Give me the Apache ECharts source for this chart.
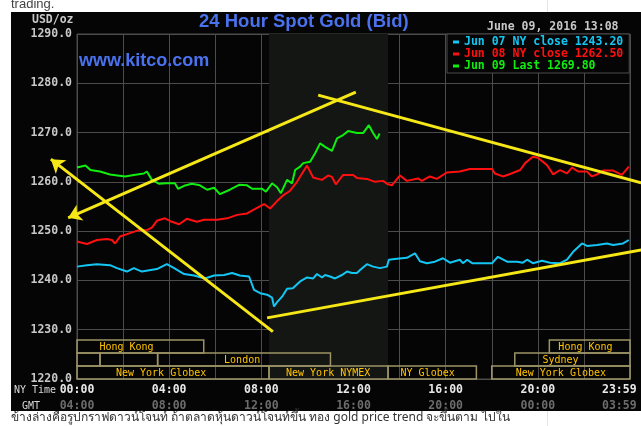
<!DOCTYPE html>
<html>
<head>
<meta charset="utf-8">
<script src="https://cdn.jsdelivr.net/npm/echarts@6.0.0/dist/echarts.min.js"></script>
<style>
html,body{margin:0;padding:0;background:#fff;}
#chart{width:641px;height:426px;}
</style>
</head>
<body>
<div id="chart"></div>
<script>
// ---------- data ----------
const seriesNames = ['Jun 07 NY close', 'Jun 08 NY close', 'Jun 09 Last'];
const closeValues = [1243.20, 1262.50, 1269.80];

const nyTickLabels = ['00:00', '04:00', '08:00', '12:00', '16:00', '20:00', '23:59'];
const gmtTickLabels = ['04:00', '08:00', '12:00', '16:00', '20:00', '00:00', '03:59'];

// minutes after 00:00 NY time
const jun07Minutes = [0,26,52,86,104,130,148,169,208,234,253,279,305,333,357,383,404,424,448,461,477,495,508,513,521,534,547,562,581,599,615,625,638,646,659,672,690,703,716,729,737,755,771,789,807,812,833,859,880,893,911,932,953,971,997,1005,1016,1029,1068,1081,1096,1120,1146,1161,1172,1187,1211,1232,1258,1276,1292,1315,1328,1354,1380,1396,1422,1437];
const jun07Prices = [1242.8,1243.1,1243.3,1243.1,1242.5,1241.8,1242.5,1241.8,1242.3,1243.3,1242.5,1241.3,1241.0,1240.4,1241.0,1241.1,1241.5,1241.0,1240.8,1238.1,1237.4,1237.1,1236.5,1234.7,1235.6,1236.7,1238.3,1238.4,1239.8,1240.6,1240.4,1241.3,1240.6,1241.1,1240.8,1240.4,1241.1,1241.8,1241.5,1241.5,1242.1,1243.3,1242.8,1242.5,1242.8,1244.2,1244.4,1244.6,1245.5,1243.9,1243.5,1243.8,1244.5,1243.6,1244.2,1243.5,1244.2,1243.5,1243.5,1243.5,1244.8,1243.8,1243.8,1243.6,1244.2,1243.5,1244.0,1243.6,1243.5,1244.2,1245.8,1247.5,1247.0,1247.2,1247.5,1247.2,1247.5,1248.2];

const jun08Minutes = [0,26,52,78,91,99,112,138,161,182,195,208,229,247,266,286,312,331,365,391,417,443,464,487,503,521,536,555,573,586,599,615,638,654,664,674,693,719,729,755,776,797,810,820,841,859,888,898,919,937,963,997,1023,1081,1088,1109,1128,1154,1167,1187,1200,1224,1240,1258,1276,1289,1305,1328,1341,1357,1370,1396,1419,1437];
const jun08Prices = [1247.9,1247.4,1248.2,1248.4,1248.2,1247.5,1248.9,1249.6,1250.2,1250.2,1250.7,1252.1,1252.6,1251.9,1251.4,1252.5,1251.9,1252.3,1252.3,1252.6,1253.3,1253.6,1254.5,1255.5,1254.6,1256.1,1257.2,1258.2,1260.0,1261.7,1263.3,1260.9,1260.4,1261.3,1261.0,1259.5,1261.4,1261.4,1260.8,1260.6,1260.0,1260.2,1259.5,1259.3,1261.3,1260.2,1260.7,1260.2,1261.1,1260.6,1261.9,1262.1,1262.6,1262.6,1261.7,1261.1,1261.6,1262.4,1263.8,1265.1,1264.9,1263.4,1261.5,1262.4,1261.7,1262.9,1262.1,1262.1,1261.1,1261.6,1262.3,1262.3,1261.4,1263.1];

const jun09Minutes = [0,22,35,60,86,125,148,174,182,195,214,234,255,263,279,299,320,339,357,372,398,422,443,456,482,492,508,521,531,547,560,568,581,589,607,620,633,646,664,677,693,706,729,745,760,771,781,788];
const jun09Prices = [1262.9,1263.3,1262.4,1262.1,1261.5,1261.1,1261.4,1261.7,1262.1,1260.4,1259.6,1259.7,1259.7,1258.6,1259.2,1259.6,1259.3,1258.4,1258.8,1257.5,1258.4,1259.4,1259.3,1258.6,1258.6,1258.0,1259.7,1258.9,1257.7,1260.4,1259.7,1262.4,1263.1,1263.8,1264.1,1265.8,1267.8,1267.1,1266.3,1268.8,1269.5,1270.3,1269.9,1269.9,1271.5,1269.9,1268.7,1269.8];

// NYMEX floor session (shaded)
const nymexStart = 500, nymexEnd = 810;

// market session bars
const sessionNames = ['Hong Kong', '', '', 'London', 'Sydney', 'Hong Kong', 'New York Globex', 'New York NYMEX', 'NY Globex', 'New York Globex'];
const sessionRows = [0, 1, 1, 1, 1, 0, 2, 2, 2, 2];
const sessionStart = [0, 0, 60, 210, 1140, 1230, 0, 500, 810, 1080];
const sessionEnd = [330, 60, 210, 660, 1440, 1440, 500, 810, 1040, 1440];
const sessionLabelAt = [129, 30, 135, 430, 1259, 1324, 219, 654, 913, 1260];

// hand-drawn trend lines (time, price)
const arrowFrom = [[726, 1278.2], [510, 1229.6]];
const arrowTo = [[-23, 1252.7], [-68, 1264.6]];
const trendFrom = [[495, 1232.4], [628, 1277.6]];
const trendTo = [[1469, 1246.2], [1469, 1259.8]];

// ---------- chart ----------
const colors = ['#14c6f4', '#ff1010', '#10ee10'];
const mono = '"DejaVu Sans Mono", monospace';
const blue = '#4a72ee';
const fullNames = seriesNames.map((n, i) => n + ' ' + closeValues[i].toFixed(2));
const pairs = (m, p) => m.map((v, i) => [v, p[i]]);

const rowTop = 1227.9, rowH = 2.633;

const chart = echarts.init(document.getElementById('chart'), null, {renderer: 'canvas'});
const option = {
  backgroundColor: '#050505',
  animation: false,
  grid: {left: 77, right: 11, top: 34, bottom: 47, show: true, borderColor: '#4c4c4c', borderWidth: 1, backgroundColor: 'transparent'},
  xAxis: [{
    type: 'value', min: 0, max: 1440, interval: 120, position: 'bottom',
    axisLine: {show: false}, axisTick: {show: false},
    splitLine: {show: true, lineStyle: {color: '#4c4c4c', width: 1}},
    axisLabel: {
      margin: 5, color: '#e8e8e8', fontFamily: mono, fontWeight: 'bold', fontSize: 11.5,
      formatter: v => v % 240 === 0 ? (v === 1440 ? '{last|' + nyTickLabels[6] + '}' : nyTickLabels[v / 240]) : '',
      rich: {last: {color: '#e8e8e8', fontFamily: mono, fontWeight: 'bold', fontSize: 11.5, padding: [0, 0, 0, 0], width: 56, align: 'left'}}
    }
  }, {
    type: 'value', min: 0, max: 1440, interval: 120, position: 'bottom', offset: 16,
    axisLine: {show: false}, axisTick: {show: false}, splitLine: {show: false},
    axisLabel: {
      margin: 5, color: '#6c6c6c', fontFamily: mono, fontWeight: 'bold', fontSize: 11.5,
      formatter: v => v % 240 === 0 ? (v === 1440 ? '{last|' + gmtTickLabels[6] + '}' : gmtTickLabels[v / 240]) : '',
      rich: {last: {color: '#6c6c6c', fontFamily: mono, fontWeight: 'bold', fontSize: 11.5, width: 56, align: 'left'}}
    }
  }],
  yAxis: {
    type: 'value', min: 1220, max: 1290, interval: 10,
    axisLine: {show: false}, axisTick: {show: false},
    splitLine: {show: true, lineStyle: {color: '#4c4c4c', width: 1}},
    axisLabel: {margin: 5, color: '#c8c8c8', fontFamily: mono, fontWeight: 'bold', fontSize: 11.5, formatter: v => v.toFixed(1)}
  },
  title: {
    text: '24 Hour Spot Gold (Bid)', left: 199, top: 12, padding: 0,
    textStyle: {color: blue, fontFamily: '"Liberation Sans", Arial, sans-serif', fontWeight: 'bold', fontSize: 18.5}
  },
  legend: {
    orient: 'vertical', left: 447, top: 34, padding: [2, 6, 1, 6], itemGap: 0,
    itemWidth: 6, itemHeight: 3, icon: 'rect', selectedMode: false,
    backgroundColor: '#050505', borderColor: '#4c4c4c', borderWidth: 1,
    textStyle: {fontFamily: mono, fontWeight: 'bold', fontSize: 11.5, lineHeight: 12},
    data: fullNames.map((n, i) => ({name: n, textStyle: {color: colors[i]}}))
  },
  graphic: [
    {type: 'rect', z: 100, silent: true, shape: {x: 0, y: 0, width: 641, height: 12}, style: {fill: '#ffffff'}},
    {type: 'rect', z: 100, silent: true, shape: {x: 0, y: 0, width: 11, height: 426}, style: {fill: '#ffffff'}},
    {type: 'rect', z: 100, silent: true, shape: {x: 0, y: 411, width: 641, height: 15}, style: {fill: '#ffffff'}},
    {type: 'line', z: 101, silent: true, shape: {x1: 547.5, y1: 0, x2: 547.5, y2: 12}, style: {stroke: '#e4e4e4', lineWidth: 1}},
    {type: 'line', z: 101, silent: true, shape: {x1: 547.5, y1: 411, x2: 547.5, y2: 426}, style: {stroke: '#e4e4e4', lineWidth: 1}},
    {type: 'text', z: 102, silent: true, style: {text: 'trading.', x: 11, y: 4, font: '13px "Liberation Sans", Arial, sans-serif', fill: '#444', verticalAlign: 'middle'}},
    {type: 'text', z: 102, silent: true, style: {text: 'ข้างล่างคือรูปกราฟดาวน์โจนท์ ถ้าตลาดหุ้นดาวน์โจนท์ขึ้น ทอง gold price trend จะขึ้นตาม ไปใน', x: 11, y: 418, font: '12px "Noto Sans", "DejaVu Sans", sans-serif', fill: '#333', verticalAlign: 'middle'}},
    {type: 'text', z: 50, silent: true, style: {text: 'www.kitco.com', x: 79, y: 61, font: 'bold 18px "Liberation Sans", Arial, sans-serif', fill: blue, verticalAlign: 'middle'}},
    {type: 'text', z: 50, silent: true, style: {text: 'USD/oz', x: 32, y: 20, font: 'bold 11.5px ' + mono, fill: '#c8c8c8', verticalAlign: 'middle'}},
    {type: 'text', z: 50, silent: true, style: {text: 'June 09, 2016 13:08', x: 487, y: 27, font: 'bold 11.5px ' + mono, fill: '#c8c8c8', verticalAlign: 'middle'}},
    {type: 'text', z: 50, silent: true, style: {text: 'NY Time', x: 14, y: 390, font: '10px ' + mono, fill: '#d8d8d8', verticalAlign: 'middle'}},
    {type: 'text', z: 50, silent: true, style: {text: 'GMT', x: 22, y: 406, font: '10px ' + mono, fill: '#d8d8d8', verticalAlign: 'middle'}}
  ],
  series: [
    {
      type: 'line', name: '__nymex', data: [], z: -1, silent: true,
      markArea: {silent: true, itemStyle: {color: '#131613'}, data: [[{xAxis: nymexStart}, {xAxis: nymexEnd}]]}
    },
    {
      type: 'custom', name: '__sessions', z: 3, silent: true, clip: false,
      data: sessionStart.map((s, i) => [s, sessionEnd[i], sessionRows[i], sessionLabelAt[i]]),
      renderItem: (params, api) => {
        const s = api.value(0), e = api.value(1), r = api.value(2), la = api.value(3);
        const p1 = api.coord([s, rowTop - r * rowH]);
        const p2 = api.coord([e, rowTop - (r + 1) * rowH]);
        const pl = api.coord([la, rowTop - (r + 0.5) * rowH]);
        const children = [{
          type: 'rect',
          shape: {x: p1[0], y: p1[1], width: p2[0] - p1[0], height: p2[1] - p1[1]},
          style: {fill: 'none', stroke: '#9c9466', lineWidth: 1.5}
        }];
        const name = sessionNames[params.dataIndex];
        if (name) children.push({
          type: 'text',
          style: {text: name, x: pl[0], y: pl[1] + 0.5, fill: '#ffc400', font: '10px ' + mono, align: 'center', verticalAlign: 'middle'}
        });
        return {type: 'group', children};
      }
    },
    {type: 'line', name: fullNames[0], data: pairs(jun07Minutes, jun07Prices), showSymbol: false, symbol: 'none', lineStyle: {color: colors[0], width: 2}, itemStyle: {color: colors[0]}, z: 4},
    {type: 'line', name: fullNames[1], data: pairs(jun08Minutes, jun08Prices), showSymbol: false, symbol: 'none', lineStyle: {color: colors[1], width: 2}, itemStyle: {color: colors[1]}, z: 4},
    {type: 'line', name: fullNames[2], data: pairs(jun09Minutes, jun09Prices), showSymbol: false, symbol: 'none', lineStyle: {color: colors[2], width: 2}, itemStyle: {color: colors[2]}, z: 4},
    {
      type: 'lines', coordinateSystem: 'cartesian2d', clip: false, silent: true, z: 8,
      symbol: ['none', 'arrow'], symbolSize: 13,
      lineStyle: {color: '#f6e816', width: 3, opacity: 1},
      data: arrowFrom.map((f, i) => ({coords: [f, arrowTo[i]]}))
    },
    {
      type: 'lines', coordinateSystem: 'cartesian2d', clip: false, silent: true, z: 8,
      symbol: ['none', 'none'],
      lineStyle: {color: '#f6e816', width: 3, opacity: 1},
      data: trendFrom.map((f, i) => ({coords: [f, trendTo[i]]}))
    }
  ]
};
chart.setOption(option);
</script>
</body>
</html>
